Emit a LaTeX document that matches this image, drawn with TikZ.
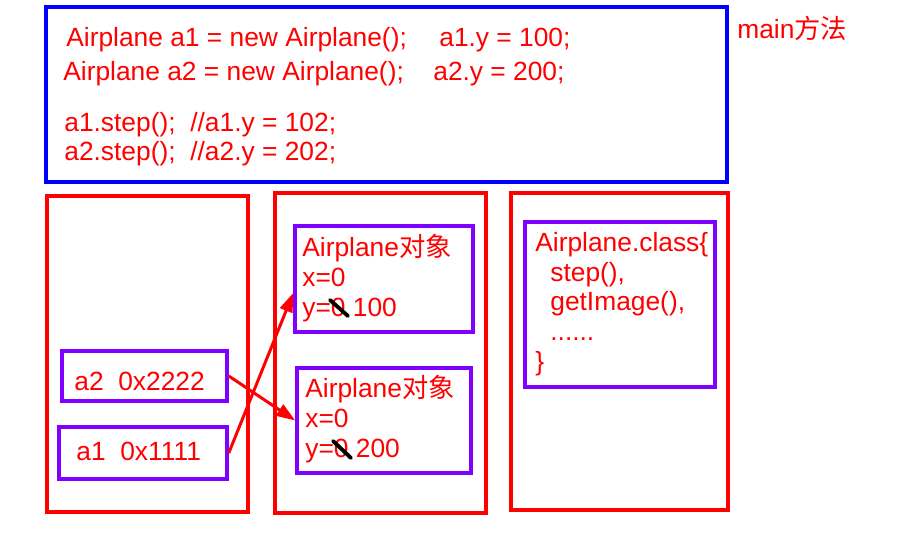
\documentclass[tikz,border=0pt]{standalone}
\usepackage{fontspec}
\setmainfont{Liberation Sans}
\newfontfamily\cjkfont{Noto Sans CJK SC}
\usetikzlibrary{positioning,fit,arrows.meta}
\definecolor{boxred}{RGB}{255,0,0}
\definecolor{boxblue}{RGB}{0,0,255}
\definecolor{boxviolet}{RGB}{128,0,255}

\begin{document}
\begin{tikzpicture}[
  x=0.02cm, y=-0.02cm,
  font=\fontsize{15}{16.8}\selectfont,
  txt/.style={text=boxred, inner sep=0pt, anchor=base west, align=left},
  area/.style={draw=boxred, line width=2pt, inner sep=0pt},
  mainbox/.style={draw=boxblue, line width=2.4pt, inner sep=0pt},
  objbox/.style={draw=boxviolet, line width=2pt, inner sep=0pt},
  arr/.style={-{Triangle[length=3.8mm, width=2.6mm]}, draw=boxred, line width=1.7pt},
  strike/.style={black, line width=2.2pt, line cap=round}
]
\useasboundingbox (0,0) rectangle (916,538);

% main method
\node[mainbox, fit={(46,7) (727,182)}] (main) {};
\node[txt] (mainlbl) at (737,38) {main{\cjkfont 方法}};
\node[txt] (new1) at (66,46) {Airplane a1 = new Airplane();};
\node[txt] (sety1) at (439,46) {a1.y = 100;};
\node[txt] (new2) at (63,80) {Airplane a2 = new Airplane();};
\node[txt] (sety2) at (433,80) {a2.y = 200;};
\node[txt] (step1) at (64,131) {a1.step();~~//a1.y = 102;};
\node[txt] (step2) at (64,160) {a2.step();~~//a2.y = 202;};

% three memory areas
\node[area, fit={(47,196) (248,512)}] (stack) {};
\node[area, fit={(275,193) (486,513)}] (heap) {};
\node[area, fit={(511,193) (728,510)}] (method) {};

% references
\node[objbox, fit={(62,351) (227,401)}] (a2) {};
\node[txt] (a2txt) at (74,390) {a2~~0x2222};
\node[objbox, fit={(59,427) (227,479)}] (a1) {};
\node[txt] (a1txt) at (76,460) {a1~~0x1111};

% objects (base = last line)
\node[objbox, fit={(295,226) (473,332)}] (obj1) {};
\node[txt] (obj1txt) at (302,316) {Airplane{\cjkfont 对象}\\x=0\\y=0 100};
\node[objbox, fit={(297,368) (471,473)}] (obj2) {};
\node[txt] (obj2txt) at (305,457) {Airplane{\cjkfont 对象}\\x=0\\y=0 200};
\draw[strike] (330,300) -- (348,316);
\draw[strike] (333,441) -- (351,458);

% class
\node[objbox, fit={(525,222) (715,387)}] (cls) {};
\node[txt] (clstxt) at (535,370)
  {Airplane.class\{\\\hspace*{0.3cm}step(),\\\hspace*{0.3cm}getImage(),\\\hspace*{0.3cm}......\\\}};

\draw[arr] (a1.east) -- ([yshift=-0.28cm]obj1.west);
\draw[arr] (a2.east) -- (obj2.west);
\end{tikzpicture}
\end{document}
